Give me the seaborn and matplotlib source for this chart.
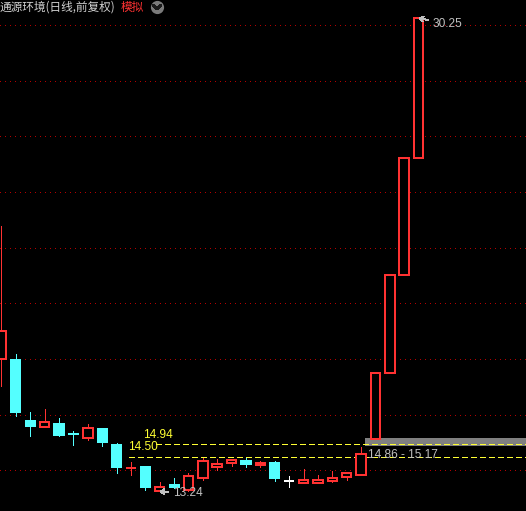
import numpy as np
import pandas as pd
import matplotlib
matplotlib.use('Agg')
import matplotlib.pyplot as plt
import seaborn as sns

# daily candles (前复权)
opens  = [18.00, 18.00, 15.81, 15.57, 15.70, 15.31, 15.18, 15.52, 14.95, 14.08,
          14.16, 13.26, 13.51, 13.30, 13.73, 14.12, 14.27, 14.37, 14.20, 14.30,
          13.62, 13.55, 13.55, 13.62, 13.76, 13.84, 15.13, 17.50, 21.02, 25.22]
highs  = [22.78, 18.18, 16.10, 16.21, 15.88, 15.42, 15.67, 15.52, 14.99, 14.30,
          14.16, 13.58, 13.73, 13.91, 14.45, 14.41, 14.37, 14.45, 14.34, 14.34,
          13.80, 14.05, 13.84, 13.98, 13.91, 14.84, 17.50, 21.02, 25.22, 30.25]
lows   = [17.03, 15.97, 15.25, 15.57, 15.22, 14.92, 15.10, 14.89, 13.92, 13.84,
          13.30, 13.24, 13.37, 13.26, 13.66, 14.02, 14.16, 14.12, 14.12, 13.62,
          13.41, 13.55, 13.55, 13.58, 13.66, 13.84, 15.13, 17.50, 21.02, 25.22]
closes = [19.01, 16.07, 15.56, 15.74, 15.25, 15.31, 15.52, 15.00, 14.10, 14.08,
          13.38, 13.41, 13.37, 13.80, 14.34, 14.23, 14.37, 14.20, 14.27, 13.69,
          13.62, 13.66, 13.66, 13.73, 13.91, 14.59, 17.50, 21.02, 25.22, 30.25]
kinds  = ['r', 'c', 'c', 'r', 'c', 'c', 'r', 'c', 'c', 'r',
          'c', 'r', 'c', 'r', 'r', 'r', 'r', 'c', 'r', 'c',
          'w', 'r', 'r', 'r', 'r', 'r', 'r', 'r', 'r', 'r']

level_prices = [14.94, 14.50]
level_starts = [10.75, 8.87]
level_text_x = [9.85, 8.8]
level_text_y = [15.27, 14.84]

band_low, band_high, band_start = 14.86, 15.17, 25.3
grid_prices = [14, 16, 18, 20, 22, 24, 26, 28, 30]

RED = '#ff3232'
CYAN = '#54ffff'
WHITE = '#ffffff'
YELLOW = '#ffff33'
GREY = '#c0c0c0'
colors = {'r': RED, 'c': CYAN, 'w': WHITE}

df = pd.DataFrame({'open': opens, 'high': highs, 'low': lows, 'close': closes, 'kind': kinds})

sns.set_theme(style='dark', rc={'axes.facecolor': 'black', 'figure.facecolor': 'black'})
plt.rcParams['font.family'] = ['Noto Sans CJK SC', 'DejaVu Sans']
plt.rcParams['lines.antialiased'] = False
plt.rcParams['patch.antialiased'] = False

W, H = 526, 511
fig = plt.figure(figsize=(W / 100, H / 100), dpi=100)
ax = fig.add_axes([0, 0, 1, 1])
ax.set_xlim(-0.104, 36.47)
ax.set_ylim(12.543, 30.898)
ax.set_axis_off()

for p in grid_prices:
    ax.axhline(p, color='#b40000', lw=0.72, ls=(0, (1, 5)), zorder=1)

# price band
ax.fill_between([band_start, 40], band_low, band_high, color='#808080', lw=0, zorder=2)

for p, s in zip(level_prices, level_starts):
    ax.hlines(p, s, 40, color=YELLOW, lw=0.9, ls=(0, (4, 3)), zorder=3)
for p, tx, ty in zip(level_prices, level_text_x, level_text_y):
    ax.text(tx, ty, f'{p:.2f}', color=YELLOW, fontsize=8.6, family='Liberation Sans',
            ha='left', va='center', zorder=5)

ax.text(25.5, 14.55, f'{band_low:.2f} - {band_high:.2f}', color=GREY, fontsize=8.6,
        family='Liberation Sans', ha='left', va='center', zorder=5)

for i, row in df.iterrows():
    o, h, l, c, k = row['open'], row['high'], row['low'], row['close'], row['kind']
    col = colors[k]
    top, bot = max(o, c), min(o, c)
    if abs(o - c) < 0.02:
        ax.vlines(i, l, h, color=col, lw=0.72, zorder=4)
        ax.hlines(o, i - 0.36, i + 0.36, color=col, lw=1.3, zorder=4)
    elif k == 'c':
        ax.vlines(i, l, h, color=col, lw=0.72, zorder=4)
        ax.bar(i, top - bot, bottom=bot, width=0.77, color=col, lw=0, zorder=4)
    else:
        ax.vlines(i, top, h, color=col, lw=0.72, zorder=4)
        ax.vlines(i, l, bot, color=col, lw=0.72, zorder=4)
        ax.bar(i, top - bot, bottom=bot, width=0.66, facecolor='black',
               edgecolor=col, lw=1.2, zorder=4)

# extreme labels
lo_i = int(np.argmin(lows))
hi_i = int(np.argmax(highs))
ax.annotate(f'{lows[lo_i]:.2f}', xy=(lo_i, lows[lo_i]), xytext=(13, -1),
            textcoords='offset pixels', color=GREY, fontsize=8.6, family='Liberation Sans',
            ha='left', va='center', zorder=6,
            arrowprops=dict(arrowstyle='->,head_length=0.3,head_width=0.2', color=GREY, lw=0.8,
                            shrinkA=1, shrinkB=0))
ax.annotate(f'{highs[hi_i]:.2f}', xy=(hi_i, highs[hi_i]), xytext=(14, -6),
            textcoords='offset pixels', color=GREY, fontsize=8.6, family='Liberation Sans',
            ha='left', va='center', zorder=6,
            arrowprops=dict(arrowstyle='->,head_length=0.3,head_width=0.2', color=GREY, lw=0.8,
                            shrinkA=1, shrinkB=0))

# header
fig.text(0.0, 1 - 7.5 / H, '通源环境(日线,前复权)', color='#d0d0d0', fontsize=8.4,
         ha='left', va='center')
fig.text(121 / W, 1 - 7.5 / H, '模拟', color=RED, fontsize=8.4, ha='left', va='center')
ax.plot([157 / W], [1 - 7 / H], marker='o', ms=9.5, color='#7a7a7a', mec='none',
        transform=ax.transAxes, zorder=7)
ax.plot([153.5 / W, 157 / W, 160.5 / W], [1 - 5.5 / H, 1 - 9 / H, 1 - 5.5 / H],
        color='#1a1a1a', lw=1.4, transform=ax.transAxes, zorder=8)

fig.savefig('out.png', dpi=100, facecolor='black')
